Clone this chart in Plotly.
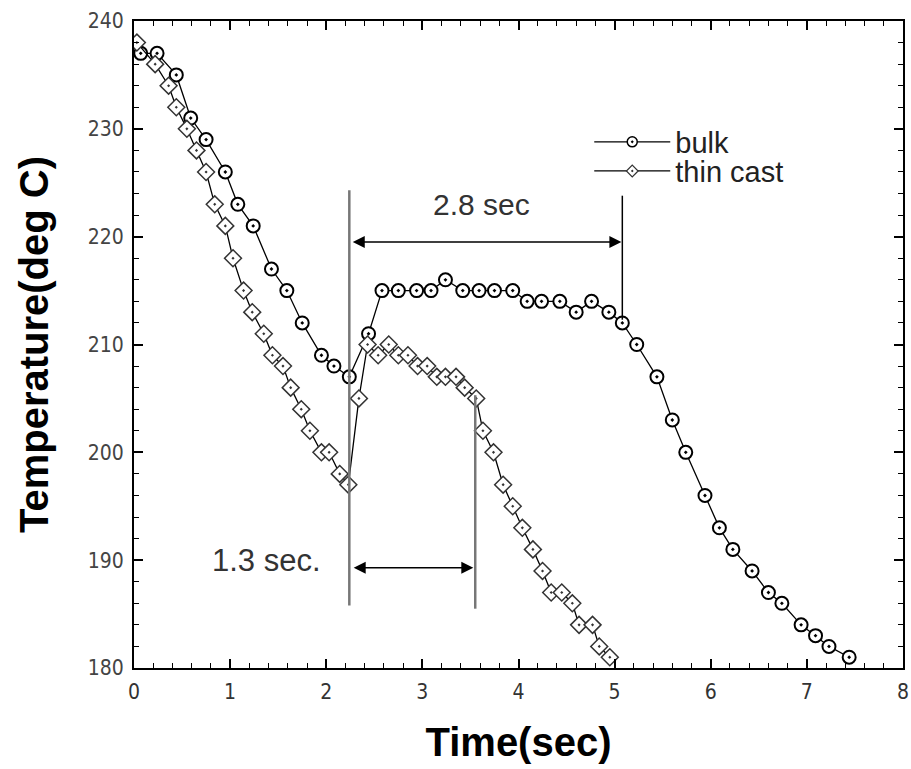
import plotly.graph_objects as go

# ---- data ----
bulk_t = [0.07, 0.24, 0.44, 0.59, 0.75, 0.95, 1.08, 1.24, 1.43, 1.59, 1.75, 1.95, 2.08, 2.24,
          2.44, 2.58, 2.75, 2.94, 3.09, 3.24, 3.42, 3.59, 3.75, 3.94, 4.09, 4.24, 4.43, 4.60,
          4.76, 4.94, 5.08, 5.23, 5.44, 5.60, 5.74, 5.94, 6.09, 6.23, 6.43, 6.60, 6.74, 6.94,
          7.09, 7.23, 7.44]
bulk_T = [237, 237, 235, 231, 229, 226, 223, 221, 217, 215, 212, 209, 208, 207,
          211, 215, 215, 215, 215, 216, 215, 215, 215, 215, 214, 214, 214, 213,
          214, 213, 212, 210, 207, 203, 200, 196, 193, 191, 189, 187, 186, 184,
          183, 182, 181]

thin_t = [0.03, 0.22, 0.36, 0.44, 0.55, 0.65, 0.75, 0.84, 0.95, 1.03, 1.14, 1.23, 1.35, 1.44,
          1.55, 1.63, 1.74, 1.83, 1.95, 2.03, 2.14, 2.23, 2.34, 2.43, 2.54, 2.65, 2.75, 2.85,
          2.95, 3.05, 3.15, 3.24, 3.35, 3.44, 3.56, 3.63, 3.74, 3.84, 3.94, 4.04, 4.15, 4.25,
          4.34, 4.45, 4.56, 4.63, 4.77, 4.84, 4.95]
thin_T = [238, 236, 234, 232, 230, 228, 226, 223, 221, 218, 215, 213, 211, 209,
          208, 206, 204, 202, 200, 200, 198, 197, 205, 210, 209, 210, 209, 209,
          208, 208, 207, 207, 207, 206, 205, 202, 200, 197, 195, 193, 191, 189,
          187, 187, 186, 184, 184, 182, 181]

x_ticks = [0, 1, 2, 3, 4, 5, 6, 7, 8]
y_ticks = [180, 190, 200, 210, 220, 230, 240]

fig = go.Figure()
fig.add_trace(go.Scatter(
    x=bulk_t, y=bulk_T, name="bulk", mode="lines+markers", showlegend=False,
    line=dict(color="black", width=1.3),
    marker=dict(symbol="circle-dot", size=13, color="white",
                line=dict(color="black", width=2))))
fig.add_trace(go.Scatter(
    x=thin_t, y=thin_T, name="thin cast", mode="lines+markers", showlegend=False,
    line=dict(color="black", width=1.3),
    marker=dict(symbol="diamond-dot", size=13, color="white",
                line=dict(color="#333", width=1.5))))
# legend entries (smaller symbols as in the reference legend)
fig.add_trace(go.Scatter(
    x=[None], y=[None], name="bulk", mode="lines+markers", legend="legend",
    line=dict(color="black", width=1.3),
    marker=dict(symbol="circle-dot", size=10, color="white",
                line=dict(color="black", width=1.5))))
fig.add_trace(go.Scatter(
    x=[None], y=[None], name="thin cast", mode="lines+markers", legend="legend2",
    line=dict(color="black", width=1.3),
    marker=dict(symbol="diamond-dot", size=9, color="white",
                line=dict(color="#333", width=1.2))))

# annotation lines
fig.add_shape(type="line", x0=2.24, x1=2.24, y0=185.8, y1=224.3,
              line=dict(color="#777", width=2.5))
fig.add_shape(type="line", x0=3.55, x1=3.55, y0=185.5, y1=205.3,
              line=dict(color="#777", width=2.5))
fig.add_shape(type="line", x0=5.08, x1=5.08, y0=212.3, y1=223.8,
              line=dict(color="black", width=1.5))

# double arrows
fig.add_annotation(x=5.07, y=219.5, ax=2.26, ay=219.5, xref="x", yref="y",
                   axref="x", ayref="y", text="", showarrow=True,
                   arrowhead=2, arrowside="end+start", arrowsize=1.6,
                   arrowwidth=1.5, arrowcolor="black")
fig.add_annotation(x=3.53, y=189.3, ax=2.27, ay=189.3, xref="x", yref="y",
                   axref="x", ayref="y", text="", showarrow=True,
                   arrowhead=2, arrowside="end+start", arrowsize=1.6,
                   arrowwidth=1.5, arrowcolor="black")
fig.add_annotation(x=3.61, y=223.0, text="2.8 sec", showarrow=False,
                   font=dict(family="Liberation Sans, Arial", size=30, color="#333"))
fig.add_annotation(x=1.38, y=190.0, text="1.3 sec.", showarrow=False,
                   font=dict(family="Liberation Sans, Arial", size=31, color="#333"))

legend_common = dict(xanchor="left", yanchor="middle", bgcolor="rgba(0,0,0,0)",
                     itemwidth=76, tracegroupgap=0,
                     font=dict(family="Liberation Sans, Arial", size=29, color="#222"))
fig.update_layout(
    width=911, height=769,
    margin=dict(l=134, r=8, t=21, b=101),
    paper_bgcolor="white", plot_bgcolor="white",
    showlegend=True,
    legend=dict(x=0.592, y=0.813, **legend_common),
    legend2=dict(x=0.592, y=0.768, **legend_common),
    font=dict(family="Liberation Sans, Arial", color="#333"),
)
fig.update_xaxes(
    range=[0, 8], tickvals=x_ticks, ticktext=[str(v) for v in x_ticks],
    automargin=False,
    ticks="inside", ticklen=9, tickwidth=1.5, tickcolor="black",
    minor=dict(dtick=0.2, ticks="inside", ticklen=5, tickwidth=1.2, tickcolor="black"),
    showline=True, linecolor="black", linewidth=2, mirror="allticks",
    showgrid=False, zeroline=False,
    tickfont=dict(family="Liberation Sans Narrow, DejaVu Sans Condensed, Liberation Sans, Arial",
                  size=21, color="#333"),
    ticklabelstandoff=4,
    title=dict(text="<b>Time(sec)</b>", standoff=25,
               font=dict(family="Liberation Sans, Arial", size=40, color="black")))
fig.update_yaxes(
    range=[180, 240], tickvals=y_ticks, ticktext=[str(v) for v in y_ticks],
    automargin=False,
    ticks="inside", ticklen=9, tickwidth=1.5, tickcolor="black",
    minor=dict(dtick=2, ticks="inside", ticklen=5, tickwidth=1.2, tickcolor="black"),
    showline=True, linecolor="black", linewidth=2, mirror="allticks",
    showgrid=False, zeroline=False,
    tickfont=dict(family="Liberation Sans Narrow, DejaVu Sans Condensed, Liberation Sans",
                  size=21, color="#444"),
    ticklabelstandoff=4,
    title=dict(text="<b>Temperature(deg C)</b>", standoff=27,
               font=dict(family="Liberation Sans, Arial", size=40, color="black")))

fig.write_html("out.html", config={"responsive": False, "displayModeBar": False},
               post_script="document.body.style.margin='0px';document.body.style.overflow='hidden';")
